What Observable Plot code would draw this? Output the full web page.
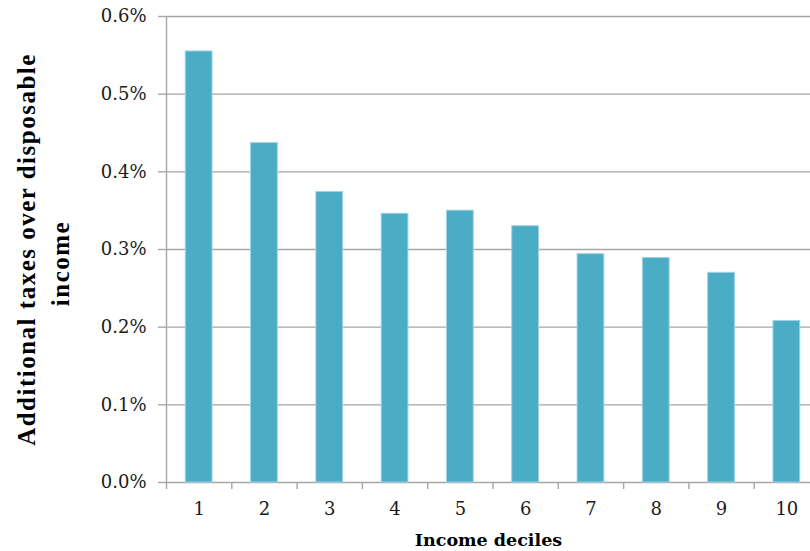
<!DOCTYPE html>
<html>
<head>
<meta charset="utf-8">
<script src="https://cdn.jsdelivr.net/npm/d3@7"></script>
<script src="https://cdn.jsdelivr.net/npm/@observablehq/plot@0.6"></script>
<style>
  html, body { margin: 0; padding: 0; background: #fff; overflow: hidden; }
</style>
</head>
<body>
<div id="chart"></div>
<script>
// Additional taxes as a share of disposable income, by income decile (percent)
const deciles = [1, 2, 3, 4, 5, 6, 7, 8, 9, 10];
const taxShare = [0.555, 0.437, 0.374, 0.346, 0.350, 0.330, 0.294, 0.289, 0.270, 0.208];
const yTicks = [0, 0.1, 0.2, 0.3, 0.4, 0.5, 0.6];
const yTitle = ["Additional taxes over disposable", "income"];
const xTitle = "Income deciles";

const data = deciles.map((d, i) => ({decile: d, value: taxShare[i]}));
// category boundaries, where the x-axis tick marks sit
const boundaries = deciles.map(d => d - 0.5).concat([deciles.length + 0.5]);
const halfBar = 0.205;

const gridColor = "#a6a6a6";
const barColor = "#4BACC6";

const chart = Plot.plot({
  width: 810,
  height: 551,
  marginTop: 16,
  marginBottom: 69,
  marginLeft: 166,
  marginRight: 0,
  style: {fontFamily: "DejaVu Serif", fontSize: "18px", color: "#1a1a1a", background: "#fff"},
  x: {type: "linear", domain: [0.5, 10.5], range: [166, 819]},
  y: {domain: [0, 0.6]},
  marks: [
    // horizontal gridlines
    Plot.ruleY(yTicks, {stroke: gridColor, strokeWidth: 1.4}),
    // bars
    Plot.rectY(data, {
      x1: d => d.decile - halfBar,
      x2: d => d.decile + halfBar,
      y: "value",
      fill: barColor,
      stroke: "#9fd3e2",
      strokeWidth: 1
    }),
    // vertical axis line
    Plot.ruleX([0.5], {y1: 0, y2: 0.6, stroke: gridColor, strokeWidth: 1.4}),
    // y axis: outward ticks and percent labels
    Plot.axisY({
      ticks: yTicks,
      tickFormat: d => d.toFixed(1) + "%",
      tickSize: 8,
      tickPadding: 12,
      stroke: gridColor,
      strokeWidth: 1.4,
      fill: "#1a1a1a",
      label: null
    }),
    // x axis: tick marks between categories
    Plot.axisX({
      ticks: boundaries,
      tickFormat: () => "",
      tickSize: 7,
      stroke: gridColor,
      strokeWidth: 1.4,
      label: null
    }),
    // x axis: decile labels centred under the bars
    Plot.axisX({
      ticks: deciles,
      tickFormat: d => String(d),
      tickSize: 0,
      tickPadding: 20,
      fill: "#1a1a1a",
      label: null
    }),
    // y axis title (two lines)
    Plot.text([yTitle[0]], {
      text: d => d,
      frameAnchor: "left",
      textAnchor: "middle",
      rotate: -90,
      dx: -140,
      lineAnchor: "middle",
      fontFamily: "Liberation Serif",
      fontWeight: "bold",
      fontSize: 25,
      fill: "#000"
    }),
    Plot.text([yTitle[1]], {
      text: d => d,
      frameAnchor: "left",
      textAnchor: "middle",
      rotate: -90,
      dx: -106,
      dy: 14,
      lineAnchor: "middle",
      fontFamily: "Liberation Serif",
      fontWeight: "bold",
      fontSize: 25,
      fill: "#000"
    }),
    // x axis title
    Plot.text([xTitle], {
      text: d => d,
      frameAnchor: "bottom",
      dy: 58,
      lineAnchor: "middle",
      fontFamily: "DejaVu Serif",
      fontWeight: "bold",
      fontSize: 17.5,
      fill: "#000"
    })
  ]
});

// widen the tracking of the y axis title
d3.select(chart).selectAll("text")
  .filter(function () { return yTitle.includes(this.textContent); })
  .style("letter-spacing", "1.5px");

document.getElementById("chart").appendChild(chart);
</script>
</body>
</html>
